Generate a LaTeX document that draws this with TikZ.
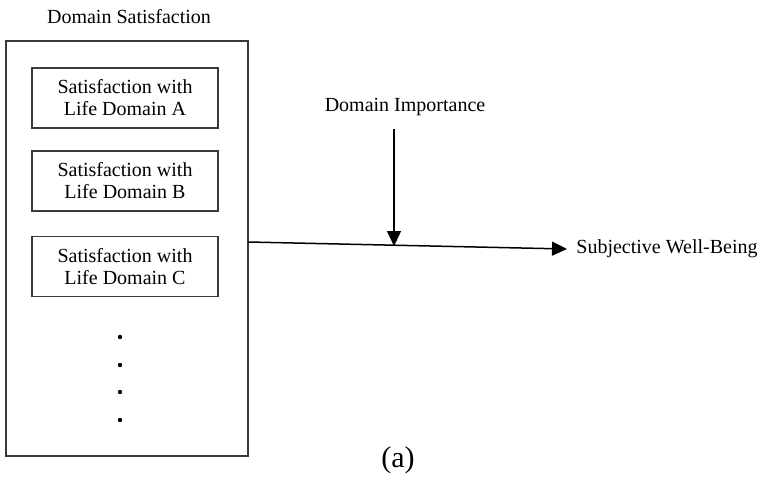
\documentclass[tikz,border=0pt]{standalone}
\usepackage{fontspec}
\setmainfont{Liberation Serif}
\usetikzlibrary{arrows.meta,positioning}
\definecolor{edge}{HTML}{3A3A3A}
\tikzset{
  panel/.style={draw=edge, line width=0.55pt, minimum width=121pt, minimum height=207.5pt, inner sep=0pt},
  dombox/.style={draw=edge, line width=0.55pt, minimum width=93pt, minimum height=30pt, inner sep=0pt, align=center, font=\fontsize{10}{11}\selectfont},
  lbl/.style={font=\fontsize{10}{11}\selectfont},
  dot/.style={circle, fill=black, inner sep=0pt, minimum size=2.2pt},
  link/.style={-{Triangle[length=7.5pt, width=7pt]}, line width=0.75pt},
}
\begin{document}
\begin{tikzpicture}[x=0.5pt, y=-0.5pt]
  \useasboundingbox (0,0) rectangle (764,476);
  \node[lbl] (title) at (129,17) {Domain Satisfaction};
  \node[panel] (outer) at (127,248.5) {};
  \node[dombox] (domA) at (125,98) {Satisfaction with\\Life Domain A};
  \node[dombox] (domB) at (125,181) {Satisfaction with\\Life Domain B};
  \node[dombox] (domC) at (125,266.5) {Satisfaction with\\Life Domain C};
  \foreach \yy in {337,365,392,420} \node[dot] at (120,\yy) {};
  \node[lbl] (imp) at (405,107) {Domain Importance};
  \node[lbl, anchor=west, inner sep=4.5pt] (swb) at (567,249) {Subjective Well-Being};
  \coordinate (src) at (248,242);
  \coordinate (meet) at (394,246);
  \draw[link] (src) -- (swb.west);
  \draw[link, shorten <=3pt] (imp.south -| meet) -- (meet);
  \node[font=\fontsize{15}{16}\selectfont] (cap) at (398,460) {(a)};
\end{tikzpicture}
\end{document}
